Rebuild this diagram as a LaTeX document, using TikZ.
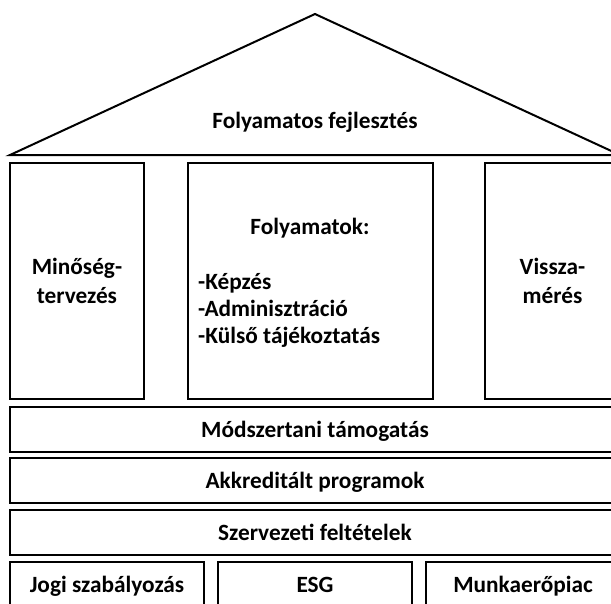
\documentclass[tikz,border=0pt]{standalone}
\usepackage{fontspec}
\setmainfont{Carlito}

\begin{document}
\begin{tikzpicture}[x=1pt,y=-1pt,
  block/.style={draw,line width=2pt,inner sep=0pt,align=center,
    font=\bfseries\fontsize{23.3}{29}\selectfont},
  oneline/.style={text height=15pt,text depth=0pt},
  label/.style={inner sep=0pt,font=\bfseries\fontsize{23.3}{27}\selectfont}]
  % Canvas
  \useasboundingbox (0,0) rectangle (611,603);
  \clip (0,0) rectangle (611,603);

  % Define roof corners
  \coordinate (roofL) at (10,155);
  \coordinate (roofT) at (315,14);
  \coordinate (roofR) at (620,155);

  % Draw roof
  \draw[line width=2pt] (roofL) -- (roofT) -- (roofR) -- cycle;
  \node[label,oneline] (roof) at (315,121) {Folyamatos fejlesztés};

  % Draw pillars
  \node[block,minimum width=134pt,minimum height=236pt] (minoseg) at (77,281) {Minőség-\\tervezés};
  \node[block,minimum width=245pt,minimum height=236pt] (folyamat) at (310.5,281) {};
  \node[block,minimum width=135pt,minimum height=236pt] (visszameres) at (552.5,281) {Vissza-\\mérés};

  % Texts of the middle pillar
  \node[label,oneline] (folyTitle) at (310,227) {Folyamatok:};
  \node[label,anchor=west,align=left] (folyList) at (198,310) {-Képzés\\-Adminisztráció\\-Külső tájékoztatás};

  % Draw bands
  \node[block,oneline,minimum width=610pt,minimum height=45pt] (modszer) at (315,429.5) {Módszertani támogatás};
  \node[block,oneline,minimum width=610pt,minimum height=45pt] (akkred) at (315,480.5) {Akkreditált programok};
  \node[block,oneline,minimum width=610pt,minimum height=45pt] (szerv) at (315,532.5) {Szervezeti feltételek};

  % Draw foundation
  \node[block,oneline,minimum width=194pt,minimum height=46pt] (jogi) at (107,585) {Jogi szabályozás};
  \node[block,oneline,minimum width=194pt,minimum height=46pt] (esg) at (315,585) {ESG};
  \node[block,oneline,minimum width=194pt,minimum height=46pt] (munka) at (523,585) {Munkaerőpiac};
\end{tikzpicture}
\end{document}
